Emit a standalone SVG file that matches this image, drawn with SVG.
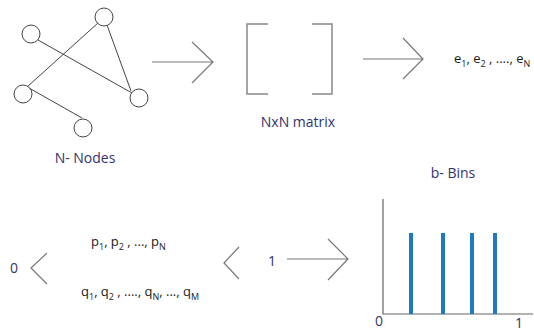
<svg xmlns="http://www.w3.org/2000/svg" width="534" height="333" viewBox="0 0 534 333">
<style>
.t{font-family:"Open Sans","Noto Sans",sans-serif;}
.lab{fill:#33336e;font-size:14px;}
.m{fill:#1a1a1a;font-size:13px;}
.s{font-size:9px;}
.nd{fill:#fff;stroke:#444;stroke-width:1;}
.e{stroke:#444;stroke-width:1;fill:none;}
.ar{stroke:#777;stroke-width:1.2;fill:none;}
.br{stroke:#888;stroke-width:1.5;fill:none;}
.bar{stroke:#1f78c1;stroke-width:4;}
</style>
<g id="connectors">
<line class="e" x1="38" y1="40" x2="132" y2="93"/>
<line class="e" x1="98" y1="23" x2="27" y2="87"/>
<line class="e" x1="107" y1="25" x2="131" y2="91"/>
<line class="e" x1="29" y1="88" x2="82" y2="118"/>
<path class="ar" d="M152 62H213M192 42L213 62L192 83"/>
<path class="ar" d="M363 59H423M403 38L423 59L403 79"/>
<path class="ar" d="M47 253L31 268L47 284"/>
<path class="ar" d="M239 247L224 263L239 279"/>
<path class="ar" d="M287 259H348M328 239L348 259L328 280"/>
</g>
<g id="n1"><circle class="nd" cx="104" cy="17" r="9"/></g>
<g id="n2"><circle class="nd" cx="31" cy="34" r="9"/></g>
<g id="n3"><circle class="nd" cx="23" cy="94" r="9"/></g>
<g id="n4"><circle class="nd" cx="139" cy="98" r="9"/></g>
<g id="n5"><circle class="nd" cx="83" cy="128" r="9"/></g>
<text class="t lab" x="85" y="163" text-anchor="middle">N- Nodes</text>
<g id="matrix">
<path class="br" d="M268 24H247V94H268M312 24H332V94H312"/>
<text class="t lab" x="298" y="127" text-anchor="middle">NxN matrix</text>
</g>
<text class="t m" x="454" y="63">e<tspan class="s" dy="4">1</tspan><tspan dy="-4">, e</tspan><tspan class="s" dy="4">2</tspan><tspan dy="-4"> , ...., e</tspan><tspan class="s" dy="4">N</tspan></text>
<text class="t lab" x="10" y="273">0</text>
<text class="t m" x="91" y="246">p<tspan class="s" dy="4">1</tspan><tspan dy="-4">, p</tspan><tspan class="s" dy="4">2</tspan><tspan dy="-4"> , ..., p</tspan><tspan class="s" dy="4">N</tspan></text>
<text class="t m" x="81" y="296">q<tspan class="s" dy="4">1</tspan><tspan dy="-4">, q</tspan><tspan class="s" dy="4">2</tspan><tspan dy="-4"> , ...., q</tspan><tspan class="s" dy="4">N</tspan><tspan dy="-4">, ..., q</tspan><tspan class="s" dy="4">M</tspan></text>
<text class="t lab" x="268" y="266">1</text>
<g id="histogram">
<text class="t lab" x="453" y="178" text-anchor="middle">b- Bins</text>
<path d="M383 199V314H533" stroke="#666" stroke-width="1.2" fill="none"/>
<line class="bar" x1="411" y1="233" x2="411" y2="314"/>
<line class="bar" x1="443" y1="233" x2="443" y2="314"/>
<line class="bar" x1="472" y1="233" x2="472" y2="314"/>
<line class="bar" x1="495" y1="233" x2="495" y2="314"/>
<text class="t lab" x="375" y="326">0</text>
<text class="t lab" x="515" y="328">1</text>
</g>
</svg>
